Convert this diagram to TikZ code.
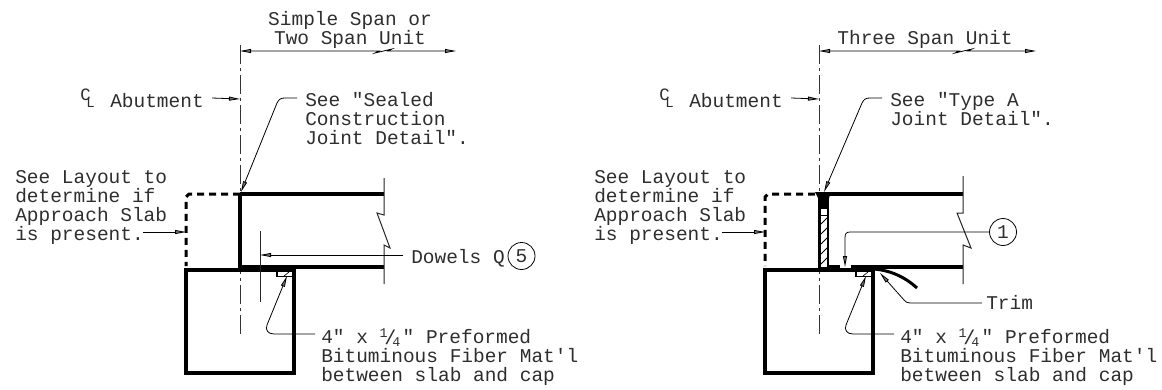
\documentclass[tikz,border=0pt]{standalone}
\usepackage{fontspec}
\setmonofont{Liberation Mono}
\usetikzlibrary{arrows.meta}
\definecolor{ink}{gray}{0.18}
\newcommand{\qfrac}{\makebox[17.25pt][l]{\raisebox{4.5pt}{\fontsize{10pt}{10pt}\selectfont 1}\kern-2.5pt\raisebox{-1pt}{\fontsize{15pt}{15pt}\selectfont /}\kern-3pt\raisebox{-2.5pt}{\fontsize{10pt}{10pt}\selectfont 4}}}
\tikzset{
  x=0.75pt,y=-0.75pt,
  txt/.style={inner sep=0pt,anchor=base west,align=left,text=ink,font=\ttfamily\fontsize{14.6pt}{14.25pt}\selectfont},
  thick line/.style={line width=3.2pt*0.75,draw=black},
  heavy/.style={line width=4pt*0.75,draw=black},
  thin line/.style={line width=0.8pt*0.75,draw=black},
  grey line/.style={line width=1pt*0.75,draw=black!85},
  cline/.style={line width=1pt*0.75,draw=black!80,dash pattern=on 19pt*0.75 off 4pt*0.75 on 3pt*0.75 off 4pt*0.75},
  dashline/.style={line width=3pt*0.75,draw=black,dash pattern=on 7pt*0.75 off 5pt*0.75},
  lead/.style={line width=0.8pt*0.75,draw=black,-{Stealth[length=11pt*0.75,width=4pt*0.75,inset=0pt,fill=black!55]}},
  dim/.style={line width=0.8pt*0.75,draw=black,{Stealth[length=11pt*0.75,width=4pt*0.75,inset=0pt,fill=black!55]}-{Stealth[length=11pt*0.75,width=4pt*0.75,inset=0pt,fill=black!55]}},
  bubble/.style={circle,draw=black,line width=0.8pt*0.75,minimum size=27pt*0.75,inner sep=0pt,text=ink,font=\ttfamily\fontsize{14.6pt}{14.6pt}\selectfont},
  bigc/.style={txt,font=\ttfamily\fontsize{13pt}{13pt}\selectfont},
  smalll/.style={txt,font=\ttfamily\fontsize{10.5pt}{10.5pt}\selectfont},
}
\begin{document}
\begin{tikzpicture}
\useasboundingbox (0,0) rectangle (1162,389);
\fill[white] (0,0) rectangle (1162,389);
% ---------- left detail
\coordinate (cA) at (240,45); \coordinate (cB) at (240,335);
\draw[cline] (cA) -- (cB);
\node[txt,align=center,anchor=base] (lspan) at (350,44) {Simple Span or\\Two Span Unit};
\coordinate (dL) at (240,51); \coordinate (dR) at (456,51);
\draw[dim] (dL) -- (379,51) -- (375,53) -- (392,49) -- (388,51) -- (dR);
\node[txt] (lcl) at (110,107) {Abutment};
\node[bigc] (lc) at (80,100) {C};
\node[smalll] (ll) at (86,107) {L};
\coordinate (lclarrow) at (212,98); \coordinate (lclend) at (240,99);
\draw[lead] (lclarrow) -- (lclend);
\node[txt] (lsee) at (305,144) {See "Sealed\\Construction\\Joint Detail".};
\coordinate (lseeA) at (297,98); \coordinate (lseeT) at (241,192);
\draw[lead] (lseeA) -- (285,98) .. controls (281,98) and (279,99) .. (277,103) -- (lseeT);
\node[txt] (llay) at (15,240) {See Layout to\\determine if\\Approach Slab\\is present.};
\coordinate (llayA) at (143,232); \coordinate (llayT) at (186,232);
\draw[lead] (llayA) -- (llayT);
% slab
\draw[thick line] (240,194) -- (384,194);
\draw[thick line] (240,267) -- (384,267);
\draw[heavy] (240,194) -- (240,268);
\draw[dashline] (240,194) -- (189,194) -- (186,197) -- (186,266);
\draw[thick line] (186,270) -- (294,270) -- (294,373) -- (186,373) -- cycle;
\draw[grey line] (384,178) -- (384,215) -- (377,213) -- (390,248) -- (384,245) -- (384,284);
% dowel
\draw[grey line] (260,231) -- (260,302);
\node[txt] (ldow) at (411,263) {Dowels Q};
\node[bubble] (l5) at (521.5,256) {5};
\coordinate (ldowS) at (403,255);
\draw[lead] (ldowS) -- (260,255);
% mat
\draw[line width=1.2pt*0.75] (277,271) -- (277,276.5) -- (294,276.5);
\draw[line width=.7pt*0.75] (284,276) -- (289,272);
\node[txt] (lmat) at (321,381) {4" x \qfrac" Preformed\\Bituminous Fiber Mat'l\\between slab and cap};
\coordinate (lmatS) at (315,334); \coordinate (lmatT) at (287,276);
\draw[lead] (lmatS) -- (274,334) .. controls (268,334) and (265,330) .. (267,325) -- (lmatT);
% ---------- right detail
\coordinate (rA) at (819,45); \coordinate (rB) at (819,335);
\draw[cline] (rA) -- (rB);
\node[txt,anchor=base] (rspan) at (925,44) {Three Span Unit};
\coordinate (rdL) at (819,51); \coordinate (rdR) at (1036,51);
\draw[dim] (rdL) -- (959,51) -- (955,53) -- (972,49) -- (968,51) -- (rdR);
\node[txt] (rcl) at (689,107) {Abutment};
\node[bigc] (rc) at (659,100) {C};
\node[smalll] (rl) at (665,107) {L};
\coordinate (rclarrow) at (791,98); \coordinate (rclend) at (819,99);
\draw[lead] (rclarrow) -- (rclend);
\node[txt] (rsee) at (890,125) {See "Type A\\Joint Detail".};
\coordinate (rseeA) at (882,98); \coordinate (rseeT) at (824,192);
\draw[lead] (rseeA) -- (870,98) .. controls (866,98) and (864,99) .. (862,103) -- (rseeT);
\node[txt] (rlay) at (594,240) {See Layout to\\determine if\\Approach Slab\\is present.};
\coordinate (rlayA) at (722,232); \coordinate (rlayT) at (765,232);
\draw[lead] (rlayA) -- (rlayT);
% slab
\draw[thick line] (829,194) -- (963,194);
\draw[thick line] (829,267) -- (840,267);
\draw[thick line] (851,267) -- (963,267);
\draw[dashline] (815,194) -- (768,194) -- (765,197) -- (765,266);
\draw[thick line] (765,270) -- (873,270) -- (873,373) -- (765,373) -- cycle;
\fill[black] (818,196) -- (829,196) -- (829,269) -- (818,269) -- cycle;
\fill[black] (815,192) -- (831,192) -- (829,198) -- (818,198) -- cycle;
\fill[white] (821,209) rectangle (827,267);
\draw[line width=.8pt*0.75] (821,215) -- (827,215);
\foreach \y in {224,234,244,254,264}{\draw[line width=.8pt*0.75] (821,\y) -- (827,\y-6);}
\draw[grey line] (963,176) -- (963,213) -- (957,213) -- (971,248) -- (963,245) -- (963,284);
\node[bubble] (r1) at (1003,232) {1};
\coordinate (r1T) at (845,267);
\draw[lead] (r1) -- (850,232) .. controls (846,232) and (845,234) .. (845,238) -- (r1T);
\draw[line width=1.2pt*0.75] (856,271) -- (856,276.5) -- (873,276.5);
\draw[line width=.7pt*0.75] (863,276) -- (868,272);
\draw[line width=3pt*0.75] (873,269) .. controls (890,270) and (905,277) .. (917,288);
\node[txt] (rtrim) at (986,309) {Trim};
\coordinate (rtrimS) at (982,303); \coordinate (rtrimT) at (880,273);
\draw[lead] (rtrimS) -- (910,303) .. controls (907,303) and (906,302) .. (904,300) -- (rtrimT);
\node[txt] (rmat) at (900,381) {4" x \qfrac" Preformed\\Bituminous Fiber Mat'l\\between slab and cap};
\coordinate (rmatS) at (894,334); \coordinate (rmatT) at (866,276);
\draw[lead] (rmatS) -- (853,334) .. controls (847,334) and (844,330) .. (846,325) -- (rmatT);
\end{tikzpicture}
\end{document}
